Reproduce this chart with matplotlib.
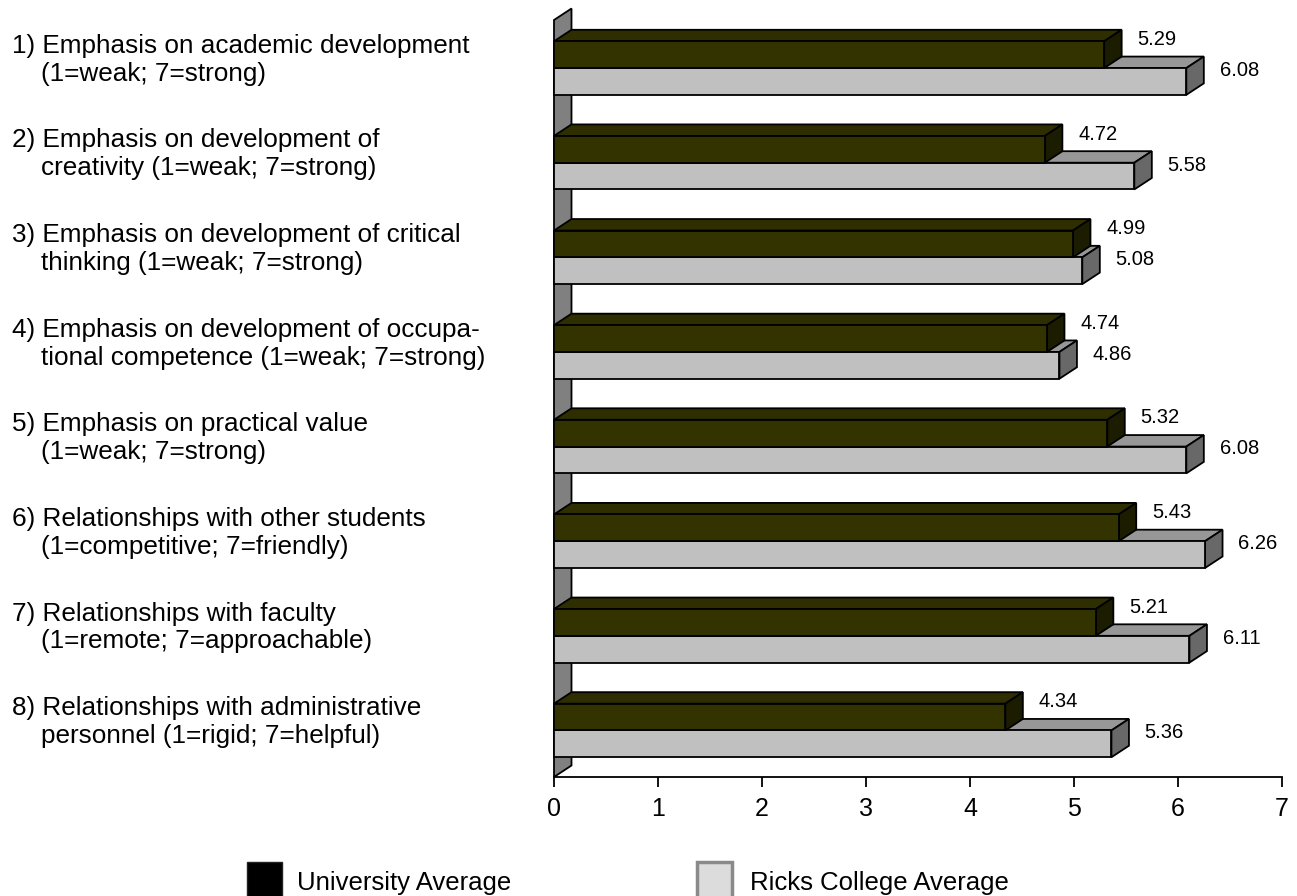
import matplotlib
matplotlib.use('Agg')
from matplotlib import pyplot as plt
from matplotlib.patches import Polygon, Rectangle
from matplotlib.transforms import blended_transform_factory

plt.rcParams['font.family'] = ['Liberation Sans', 'DejaVu Sans']

labels = [
    '1) Emphasis on academic development\n    (1=weak; 7=strong)',
    '2) Emphasis on development of\n    creativity (1=weak; 7=strong)',
    '3) Emphasis on development of critical\n    thinking (1=weak; 7=strong)',
    '4) Emphasis on development of occupa-\n    tional competence (1=weak; 7=strong)',
    '5) Emphasis on practical value\n    (1=weak; 7=strong)',
    '6) Relationships with other students\n    (1=competitive; 7=friendly)',
    '7) Relationships with faculty\n    (1=remote; 7=approachable)',
    '8) Relationships with administrative\n    personnel (1=rigid; 7=helpful)',
]
university = [5.29, 4.72, 4.99, 4.74, 5.32, 5.43, 5.21, 4.34]
ricks = [6.08, 5.58, 5.08, 4.86, 6.08, 6.26, 6.11, 5.36]

# face colours: front, top, side
dark_faces = ('#333300', '#2e2e00', '#1c1c00')
light_faces = ('#c0c0c0', '#979797', '#686868')

W, H = 1297, 896
fig = plt.figure(figsize=(W / 100, H / 100), dpi=100)
ax = fig.add_axes([554 / W, 119 / H, 728 / W, 757 / H])
ax.set_xlim(0, 7)
ax.set_ylim(8, 0)

# depth of the fake 3d effect, in data units
px_x = 728 / 7
px_y = 757 / 8
dx = 17.5 / px_x
dy = 11.5 / px_y

lw = 1.3
bar_h = 0.283
dark_off = 0.225
light_off = dark_off + bar_h


def box(y0, width, faces, z):
    y1 = y0 + bar_h
    front, top, side = faces
    ax.add_patch(Polygon([(0, y0), (width, y0), (width + dx, y0 - dy), (dx, y0 - dy)],
                         closed=True, fc=top, ec='black', lw=lw, zorder=z, clip_on=False,
                         joinstyle='miter'))
    ax.add_patch(Polygon([(width, y0), (width + dx, y0 - dy), (width + dx, y1 - dy), (width, y1)],
                         closed=True, fc=side, ec='black', lw=lw, zorder=z, clip_on=False,
                         joinstyle='miter'))
    ax.barh(y0, width, height=bar_h, left=0, align='edge', color=front,
            edgecolor='black', linewidth=lw, zorder=z + 0.5, clip_on=False)


# back wall
ax.add_patch(Polygon([(0, 0), (dx, -dy), (dx, 8 - dy), (0, 8)], closed=True,
                     fc='#808080', ec='black', lw=lw, zorder=1, clip_on=False))

for i in range(len(labels)):
    z = 2 + i * 4
    box(i + light_off, ricks[i], light_faces, z)
    box(i + dark_off, university[i], dark_faces, z + 2)
    ax.text(university[i] + 0.32, i + dark_off - 0.02, f'{university[i]:.2f}',
            fontsize=14.5, va='center', ha='left')
    ax.text(ricks[i] + 0.32, i + light_off + 0.025, f'{ricks[i]:.2f}',
            fontsize=14.5, va='center', ha='left')

# category labels on the left
trans = blended_transform_factory(fig.transFigure, ax.transData)
for i, lab in enumerate(labels):
    ax.text(12 / W, i + 0.42, lab, transform=trans, fontsize=18.8, va='center',
            ha='left', linespacing=1.2)

for s in ['left', 'right', 'top']:
    ax.spines[s].set_visible(False)
ax.spines['bottom'].set_linewidth(lw)
ax.spines['bottom'].set_zorder(50)
ax.set_yticks([])
ax.set_xticks(range(8))
ax.tick_params(axis='x', length=7.5, width=lw, pad=7, labelsize=18)
ax.patch.set_visible(False)

# legend
fig.patches.append(Rectangle((247 / W, -0.01), 35 / W, 43 / H, transform=fig.transFigure,
                             fc='black', ec='#222222', lw=1))
fig.text(297 / W, 6 / H, 'University Average', fontsize=18.5, va='baseline', ha='left')
fig.patches.append(Rectangle((697 / W, -0.01), 35 / W, 43 / H, transform=fig.transFigure,
                             fc='#dcdcdc', ec='#8a8a8a', lw=2.5))
fig.text(750 / W, 6 / H, 'Ricks College Average', fontsize=18.5, va='baseline', ha='left')

plt.savefig('out.png', dpi=100)
